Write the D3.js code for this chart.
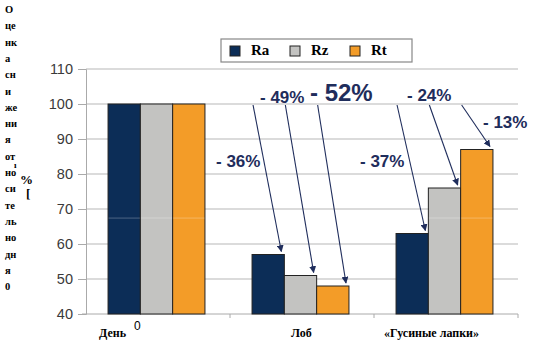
<!DOCTYPE html>
<html lang="ru">
<head>
<meta charset="utf-8">
<title>Снижение Ra, Rz, Rt</title>
<script src="https://d3js.org/d3.v7.min.js"></script>
<style>
  body { margin: 0; background: #fff; }
  svg text { font-family: "Liberation Sans", Arial, sans-serif; }
  svg text.serif { font-family: "Liberation Serif", "Times New Roman", serif; font-weight: bold; }
</style>
</head>
<body>
<svg id="chart" width="538" height="345"></svg>
<script>
// data
var categories = ["День", "Лоб", "«Гусиные лапки»"];
var seriesNames = ["Ra", "Rz", "Rt"];
var raValues = [100, 57, 63];
var rzValues = [100, 51, 76];
var rtValues = [100, 48, 87];
var yTicks = [40, 50, 60, 70, 80, 90, 100, 110];
// drop labels, in order Лоб Ra/Rz/Rt, Гусиные Ra/Rz/Rt
var dropLabels = ["- 36%", "- 49%", "- 52%", "- 37%", "- 24%", "- 13%"];
var yTitleParts = ["О", "це", "нк", "а", "сн", "и", "же", "ни", "я", "от", "но", "си", "те", "ль", "но", "дн", "я", "0"];

var colors = ["#0c2d57", "#c3c3c1", "#f39c28"];
var seriesValues = [raValues, rzValues, rtValues];

var svg = d3.select("#chart");
var plotLeft = 86, plotRight = 518, plotTop = 69, plotBottom = 314;

var x = d3.scaleBand().domain(categories).range([plotLeft, plotRight]);
var y = d3.scaleLinear().domain([40, 110]).range([plotBottom, plotTop]);
var barW = 32.3;
var groupW = barW * 3;

function barX(ci, si) {
  return x(categories[ci]) + x.bandwidth() / 2 - groupW / 2 - 1.5 + si * barW;
}

// gridlines
svg.append("g").selectAll("line")
  .data(yTicks.filter(function(d) { return d > 40; }))
  .enter().append("line")
    .attr("x1", plotLeft).attr("x2", plotRight)
    .attr("y1", function(d) { return y(d); })
    .attr("y2", function(d) { return y(d); })
    .attr("stroke", "#cfcfcf").attr("stroke-width", 1.5);

// y axis
var yAxis = svg.append("g")
  .attr("transform", "translate(" + plotLeft + ",0)")
  .call(d3.axisLeft(y).tickValues(yTicks).tickSize(8).tickPadding(5));
yAxis.select(".domain").attr("stroke", "#aaa");
yAxis.selectAll(".tick line").attr("stroke", "#aaa");
yAxis.selectAll("text").attr("fill", "#3a3a3a").style("font-size", "14.5px");

// x axis
var xAxis = svg.append("g")
  .attr("transform", "translate(0," + plotBottom + ")")
  .call(d3.axisBottom(x).tickSize(0).tickFormat(""));
xAxis.select(".domain").attr("stroke", "#aaa").attr("d", "M" + (plotLeft - 4) + ",0H" + plotRight);
svg.append("g").selectAll("line")
  .data(categories)
  .enter().append("line")
    .attr("x1", function(d) { return x(d) + x.bandwidth(); })
    .attr("x2", function(d) { return x(d) + x.bandwidth(); })
    .attr("y1", plotBottom).attr("y2", plotBottom + 4)
    .attr("stroke", "#aaa");

// bars
var bars = [];
seriesValues.forEach(function(vals, si) {
  vals.forEach(function(v, ci) {
    bars.push({ ci: ci, si: si, v: v });
  });
});

svg.append("g").selectAll("rect")
  .data(bars)
  .enter().append("rect")
    .attr("x", function(d) { return barX(d.ci, d.si); })
    .attr("y", function(d) { return y(d.v); })
    .attr("width", barW)
    .attr("height", function(d) { return plotBottom - y(d.v); })
    .attr("fill", function(d) { return colors[d.si]; })
    .attr("stroke", "#222").attr("stroke-width", 1);

// faint streak across bars
svg.append("g").selectAll("line")
  .data(bars.filter(function(d) { return d.v > 68; }))
  .enter().append("line")
    .attr("x1", function(d) { return barX(d.ci, d.si) + 0.5; })
    .attr("x2", function(d) { return barX(d.ci, d.si) + barW - 0.5; })
    .attr("y1", y(67.4)).attr("y2", y(67.4))
    .attr("stroke", "#ffffff").attr("stroke-opacity", 0.18).attr("stroke-width", 1.5);

// legend
var legend = svg.append("g");
legend.append("rect")
  .attr("x", 221).attr("y", 39).attr("width", 191).attr("height", 23)
  .attr("fill", "#fff").attr("stroke", "#888").attr("stroke-width", 1.2);
seriesNames.forEach(function(name, i) {
  var lx = 230 + i * 60;
  legend.append("rect")
    .attr("x", lx).attr("y", 46).attr("width", 10).attr("height", 10)
    .attr("fill", colors[i]).attr("stroke", "#222").attr("stroke-width", 1);
  legend.append("text")
    .attr("class", "serif")
    .attr("x", lx + 21).attr("y", 55)
    .style("font-size", "15px")
    .text(name);
});

// arrows
svg.append("defs").append("marker")
  .attr("id", "arrow")
  .attr("viewBox", "0 0 10 10")
  .attr("refX", 9).attr("refY", 5)
  .attr("markerWidth", 7).attr("markerHeight", 7)
  .attr("markerUnits", "userSpaceOnUse")
  .attr("orient", "auto")
  .append("path").attr("d", "M0,0L10,5L0,10z").attr("fill", "#1f2d5c");

var arrowBars = bars.filter(function(d) { return d.ci > 0; });
svg.append("g").selectAll("line")
  .data(arrowBars)
  .enter().append("line")
    .attr("x1", function(d) { return barX(d.ci, d.si) + 1; })
    .attr("y1", y(100) + 1)
    .attr("x2", function(d) { return barX(d.ci, d.si) + barW - 3; })
    .attr("y2", function(d) { return y(d.v) - 3; })
    .attr("stroke", "#1f2d5c").attr("stroke-width", 1.1)
    .attr("marker-end", "url(#arrow)");

// drop labels
var labelPos = [
  { x: 216, y: 167, s: 17 },
  { x: 260, y: 103, s: 17 },
  { x: 310, y: 101, s: 24 },
  { x: 360, y: 167, s: 17 },
  { x: 407, y: 101, s: 17 },
  { x: 483, y: 128, s: 17 }
];
svg.append("g").selectAll("text")
  .data(dropLabels)
  .enter().append("text")
    .attr("x", function(d, i) { return labelPos[i].x; })
    .attr("y", function(d, i) { return labelPos[i].y; })
    .style("font-size", function(d, i) { return labelPos[i].s + "px"; })
    .style("font-weight", "bold")
    .attr("fill", "#1f2d5c")
    .text(function(d) { return d; });

// category labels
var catOffsets = [-59, -11, -62];
svg.append("g").selectAll("text")
  .data(categories)
  .enter().append("text")
    .attr("class", "serif")
    .attr("x", function(d, i) { return x(d) + x.bandwidth() / 2 + catOffsets[i]; })
    .attr("y", 337)
    .style("font-size", "12px")
    .text(function(d) { return d; });
svg.append("text")
  .attr("x", 134).attr("y", 330)
  .style("font-size", "12px")
  .text("0");

// broken y-axis title
svg.append("g").selectAll("text")
  .data(yTitleParts)
  .enter().append("text")
    .attr("class", "serif")
    .attr("x", 5)
    .attr("y", function(d, i) { return 13 + i * 16.3; })
    .style("font-size", "10.5px")
    .text(function(d) { return d; });
svg.append("text").attr("class", "serif")
  .attr("x", 14).attr("y", 168).style("font-size", "9px").text("ı");
svg.append("text").attr("class", "serif")
  .attr("x", 20).attr("y", 184).style("font-size", "13px").text("%");
svg.append("text").attr("class", "serif")
  .attr("x", 26).attr("y", 198).style("font-size", "13px").text("[");
</script>
</body>
</html>
